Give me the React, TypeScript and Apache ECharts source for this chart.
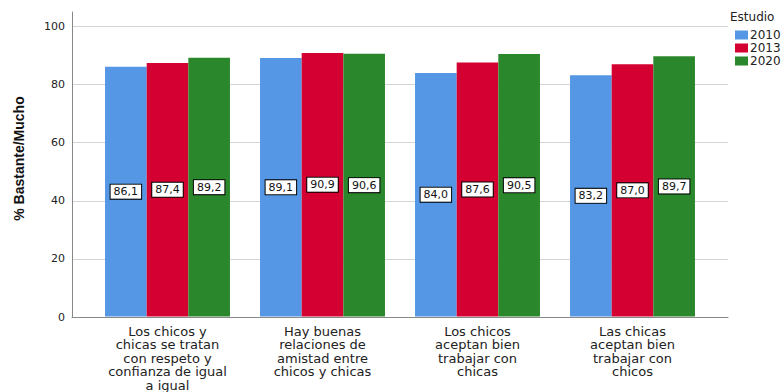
import React, { useEffect, useRef } from 'react';
import * as echarts from 'echarts';

const categories = [
  'Los chicos y\nchicas se tratan\ncon respeto y\nconfianza de igual\na igual',
  'Hay buenas\nrelaciones de\namistad entre\nchicos y chicas',
  'Los chicos\naceptan bien\ntrabajar con\nchicas',
  'Las chicas\naceptan bien\ntrabajar con\nchicos',
];
const seriesNames = ['2010', '2013', '2020'];
const values2010 = [86.1, 89.1, 84.0, 83.2];
const values2013 = [87.4, 90.9, 87.6, 87.0];
const values2020 = [89.2, 90.6, 90.5, 89.7];
const yTicks = [0, 20, 40, 60, 80, 100];

const colors = ['#5597e4', '#d50032', '#2b872b'];
const FONT = 'DejaVu Sans';

export default function App() {
  const ref = useRef<HTMLDivElement>(null);
  useEffect(() => {
    if (!ref.current) return;
    const chart = echarts.init(ref.current, undefined, { renderer: 'svg' });
    const allValues = [values2010, values2013, values2020];
    chart.setOption({
      animation: false,
      backgroundColor: '#fff',
      textStyle: { fontFamily: FONT },
      grid: [
        { left: 72, right: 53, top: 12, bottom: 75 },
        { left: 90, right: 71, top: 12, bottom: 75 },
      ],
      legend: {
        orient: 'vertical',
        left: 730,
        top: 24,
        itemWidth: 13,
        itemHeight: 9,
        itemGap: 1,
        icon: 'rect',
        data: seriesNames,
        textStyle: { fontFamily: FONT, fontSize: 12, color: '#222', padding: [0, 0, 0, -3] },
      },
      graphic: [
        {
          type: 'text',
          left: 730,
          top: 11,
          style: { text: 'Estudio', font: `12px "${FONT}"`, fill: '#222' },
        },
      ],
      xAxis: [
        {
          gridIndex: 0,
          type: 'value',
          min: 0,
          max: 1,
          axisLine: { show: true, onZero: false, lineStyle: { color: '#888', width: 1 } },
          axisTick: { show: false },
          axisLabel: { show: false },
          splitLine: { show: false },
        },
        {
          gridIndex: 1,
          type: 'category',
          data: categories,
          axisLine: { show: false },
          axisTick: { show: false },
          axisLabel: {
            interval: 0,
            margin: 8,
            fontFamily: FONT,
            fontSize: 13,
            lineHeight: 13.5,
            color: '#222',
            align: 'center',
          },
        },
      ],
      yAxis: [
        {
          gridIndex: 0,
          type: 'value',
          min: 0,
          max: 105,
          interval: 20,
          name: '% Bastante/Mucho',
          nameLocation: 'middle',
          nameGap: 46,
          nameTextStyle: {
            fontFamily: 'Liberation Sans',
            fontWeight: 'bold',
            fontSize: 14,
            color: '#111',
            padding: [0, 0, 0, 12],
          },
          axisLine: { show: true, lineStyle: { color: '#888', width: 1 } },
          axisTick: { show: false },
          axisLabel: {
            margin: 7,
            fontFamily: FONT,
            fontSize: 11,
            color: '#222',
            formatter: (v: number) => (yTicks.includes(v) ? String(v) : ''),
          },
          splitLine: { show: true, showMaxLine: false, showMinLine: false, lineStyle: { color: '#d4d4d4', width: 1 } },
        },
        {
          gridIndex: 1,
          type: 'value',
          min: 0,
          max: 105,
          show: false,
        },
      ],
      series: seriesNames.map((name, i) => ({
        name,
        type: 'bar',
        xAxisIndex: 1,
        yAxisIndex: 1,
        data: allValues[i],
        barGap: '0%',
        barCategoryGap: '19.4%',
        itemStyle: { color: colors[i] },
        label: {
          show: true,
          position: 'inside',
          formatter: (p: any) => p.value.toFixed(1).replace('.', ','),
          fontFamily: FONT,
          fontSize: 11,
          lineHeight: 12,
          color: '#111',
          backgroundColor: '#fff',
          borderColor: '#000',
          borderWidth: 1,
          padding: [1, 3, 1, 3],
        },
      })),
    });
    return () => chart.dispose();
  }, []);
  return <div ref={ref} style={{ width: 781, height: 392, position: 'absolute', left: 0, top: 0 }} />;
}
